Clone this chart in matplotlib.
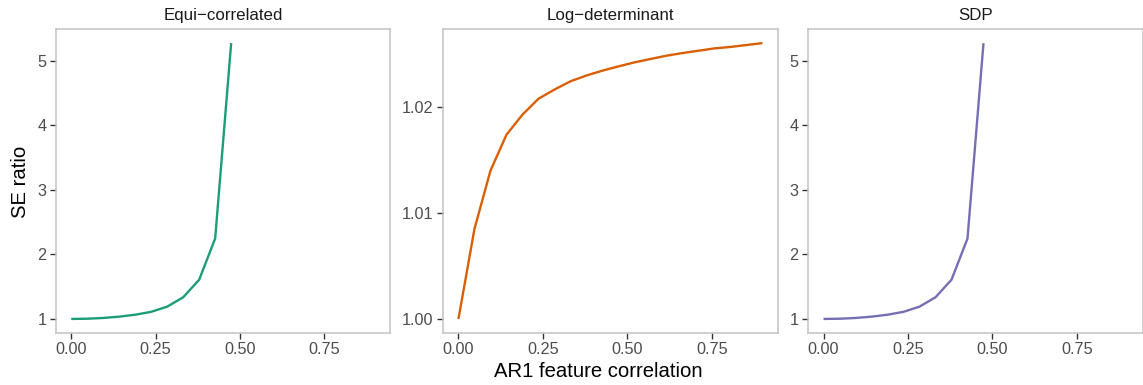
import numpy as np
import matplotlib
matplotlib.use("Agg")
import matplotlib.pyplot as plt
from matplotlib.ticker import FixedLocator

plt.rcParams['font.family'] = ['Liberation Sans', 'DejaVu Sans']

# Data
rho = np.linspace(0, 0.9, 20)
equi = [1.0, 1.003, 1.015, 1.035, 1.065, 1.11, 1.19, 1.335, 1.607, 2.245, 5.27]
logdet = [1.0, 1.0085, 1.0140, 1.0174, 1.0193, 1.0208, 1.02167, 1.02245, 1.0230,
          1.02346, 1.02386, 1.02424, 1.02456, 1.02487, 1.02512, 1.02534, 1.02556,
          1.0257, 1.02588, 1.02606]
sdp = [1.0, 1.003, 1.015, 1.035, 1.065, 1.11, 1.19, 1.335, 1.607, 2.245, 5.27]
titles = ["Equi\u2212correlated", "Log\u2212determinant", "SDP"]
colors = ["#1B9E77", "#D95F02", "#7570B3"]
x_ticks = [0.0, 0.25, 0.5, 0.75]
x_tick_labels = ["0.00", "0.25", "0.50", "0.75"]
y_ticks = [[1, 2, 3, 4, 5], [1.00, 1.01, 1.02], [1, 2, 3, 4, 5]]
y_tick_labels = [["1", "2", "3", "4", "5"], ["1.00", "1.01", "1.02"], ["1", "2", "3", "4", "5"]]
series = [equi, logdet, sdp]

fig = plt.figure(figsize=(11.43, 3.85), dpi=100)
lefts = [0.049, 0.3878, 0.7072]
w = 0.2925
bottom = 0.1358
h = 0.788

for i in range(3):
    ax = fig.add_axes([lefts[i], bottom, w, h])
    y = np.array(series[i])
    x = rho[:len(y)]
    ax.plot(x, y, color=colors[i], lw=1.7, solid_capstyle='butt')
    xmin, xmax = 0, 0.9
    ex = (xmax - xmin) * 0.05
    ax.set_xlim(xmin - ex, xmax + ex)
    ymin, ymax = y.min(), y.max()
    ey = (ymax - ymin) * 0.05
    ax.set_ylim(ymin - ey, ymax + ey)
    ax.xaxis.set_major_locator(FixedLocator(x_ticks))
    ax.set_xticklabels(x_tick_labels)
    ax.yaxis.set_major_locator(FixedLocator(y_ticks[i]))
    ax.set_yticklabels(y_tick_labels[i])
    for s in ax.spines.values():
        s.set_color("#C2C2C2")
        s.set_linewidth(1.1)
    ax.tick_params(axis='both', length=4, width=1.0, color="#333333",
                   labelcolor="#4D4D4D", labelsize=11.7, pad=3)
    ax.set_title(titles[i], fontsize=12.2, color="#1A1A1A", pad=7)

fig.text(0.5236, 0.034, "AR1 feature correlation", ha='center', va='center', fontsize=14.6, color='black')
fig.text(0.0175, 0.527, "SE ratio", ha='center', va='center', rotation=90, fontsize=14.6, color='black')

fig.savefig("out.png", dpi=100)
